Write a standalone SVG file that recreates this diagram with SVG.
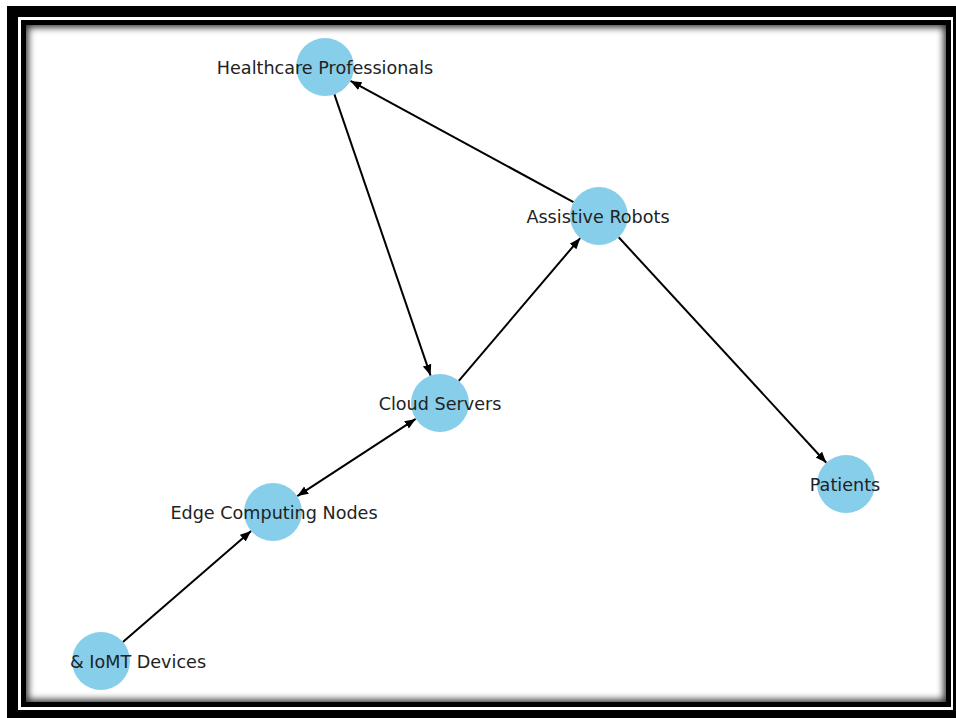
<svg xmlns="http://www.w3.org/2000/svg" width="956" height="718" viewBox="0 0 956 718">
<defs>
<style>
.node circle{fill:#87CEEB;}
.node text{font-family:"DejaVu Sans",sans-serif;font-size:17.6px;fill:#222;text-anchor:middle;}
.edge{stroke:#000;stroke-width:2;fill:none;marker-end:url(#ah);}
</style>
<marker id="ah" viewBox="0 0 10 10" refX="10" refY="5" markerWidth="11" markerHeight="11" markerUnits="userSpaceOnUse" orient="auto-start-reverse">
<path d="M0,1 L10,5 L0,9 Z" fill="#000"/>
</marker>
<clipPath id="inner"><rect x="26" y="25" width="920" height="677"/></clipPath>
<filter id="blur" x="-5%" y="-5%" width="110%" height="110%"><feGaussianBlur stdDeviation="3.5"/></filter>
</defs>
<rect x="0" y="0" width="956" height="718" fill="#fff"/>
<g id="frame">
<rect x="12.5" y="11.5" width="946" height="704" fill="none" stroke="#000" stroke-width="11"/>
<g clip-path="url(#inner)">
<rect x="23.5" y="22.5" width="925" height="682" fill="none" stroke="#000" stroke-width="10" filter="url(#blur)" opacity="0.8"/>
</g>
<rect x="23.5" y="22.5" width="925" height="682" fill="none" stroke="#000" stroke-width="5"/>
</g>
<g id="edges">
<path class="edge" d="M334.4,94.4 L430.6,375.6"/>
<path class="edge" d="M458.8,380.9 L580.2,238.1"/>
<path class="edge" d="M573.5,202.1 L350.5,80.9"/>
<path class="edge" d="M618.7,237.3 L826.3,462.7"/>
<path class="edge" d="M415.7,418.9 L297.3,496.1" style="marker-start:url(#ah)"/>
<path class="edge" d="M122.9,642 L251.1,531"/>
</g>
<g id="n-hp" class="node"><circle cx="325" cy="67" r="29"/><text x="325" y="74">Healthcare Professionals</text></g>
<g id="n-ar" class="node"><circle cx="599" cy="216" r="29"/><text x="598" y="223">Assistive Robots</text></g>
<g id="n-cs" class="node"><circle cx="440" cy="403" r="29"/><text x="440" y="410">Cloud Servers</text></g>
<g id="n-ec" class="node"><circle cx="273" cy="512" r="29"/><text x="274" y="519">Edge Computing Nodes</text></g>
<g id="n-iomt" class="node"><circle cx="101" cy="661" r="29"/><text x="138" y="668">&amp; IoMT Devices</text></g>
<g id="n-pt" class="node"><circle cx="846" cy="484" r="29"/><text x="845" y="491">Patients</text></g>
</svg>
